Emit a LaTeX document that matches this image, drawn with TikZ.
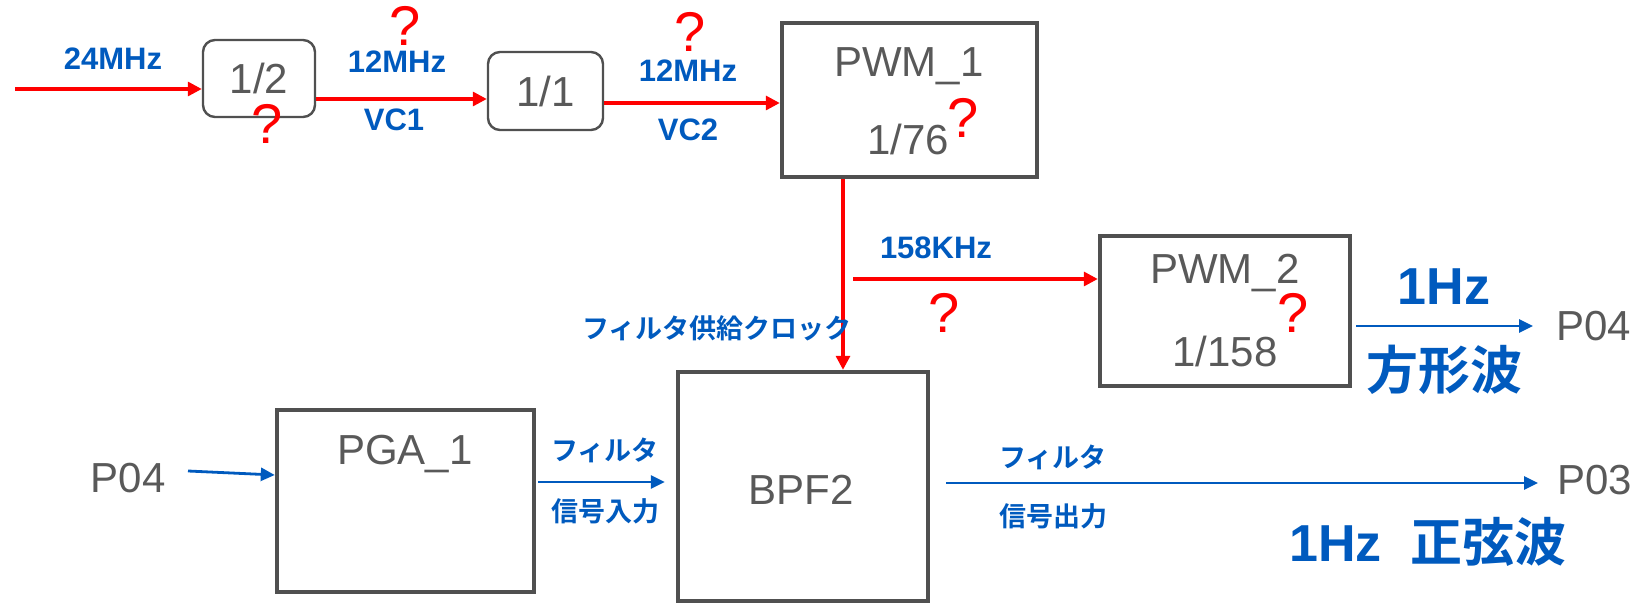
\documentclass[tikz,border=0pt]{standalone}
\usepackage{fontspec}
\setmainfont{Liberation Sans}
\newfontfamily\jp{Noto Sans CJK JP}[BoldFont={Noto Sans CJK JP Bold}]
\usetikzlibrary{arrows.meta}
\definecolor{cblue}{RGB}{0,90,190}
\definecolor{cred}{RGB}{255,0,0}
\definecolor{ctext}{RGB}{89,89,89}
\definecolor{cbox}{RGB}{80,80,80}
\begin{document}
\begin{tikzpicture}[x=0.5pt,y=-0.5pt,
  bigbox/.style={draw=cbox, line width=2.2pt, inner sep=0pt},
  rbox/.style={draw=cbox, line width=1.2pt, rounded corners=6pt, inner sep=0pt,
    text=ctext, font=\fontsize{21}{25}\selectfont},
  rarr/.style={draw=cred, line width=1.6pt, -{Triangle[length=7pt,width=7pt]}},
  barr/.style={draw=cblue, line width=1.4pt, -{Triangle[length=7pt,width=6.5pt]}},
  btext/.style={text=ctext, font=\fontsize{21}{25}\selectfont, inner sep=0pt},
  lbl/.style={text=cblue, font=\bfseries\fontsize{15.5}{18}\selectfont, inner sep=0pt},
  jlbl/.style={text=cblue, font=\jp\bfseries\fontsize{13.5}{16}\selectfont, inner sep=0pt},
  biglbl/.style={text=cblue, font=\bfseries\fontsize{26}{30}\selectfont, inner sep=0pt},
  q/.style={text=cred, font=\fontsize{28}{31}\selectfont, inner sep=0pt}]
\useasboundingbox (0,0) rectangle (1635,604);
\clip (0,0) rectangle (1635,604);

% boxes
\node[rbox, minimum width=56pt, minimum height=38.5pt] (b12) at (259,78.5) {1/2};
\node[rbox, minimum width=57.5pt, minimum height=39pt] (b11) at (545.5,91) {1/1};
\node[bigbox, minimum width=127.5pt, minimum height=77pt] (pwm1) at (909.5,100) {};
\node[bigbox, minimum width=125pt, minimum height=75pt] (pwm2) at (1225,311) {};
\node[bigbox, minimum width=128.5pt, minimum height=91pt] (pga) at (405.5,501) {};
\node[bigbox, minimum width=125pt, minimum height=114.5pt] (bpf) at (803,486.5) {};

% box texts
\node[btext] (t1) at (909,66) {PWM\_1};
\node[btext] (t2) at (908,139) {1/76};
\node[btext] (t3) at (1225,273) {PWM\_2};
\node[btext] (t4) at (1225,351) {1/158};
\node[btext] (t5) at (405,454) {PGA\_1};
\node[btext] (t6) at (801,490) {BPF2};
\node[btext, anchor=west] (p04r) at (1556,326) {P04};
\node[btext, anchor=west] (p03) at (1557,480) {P03};
\node[btext] (p04l) at (128,478) {P04};

% coordinates
\coordinate (in) at (15,89);
\coordinate (y1) at (0,99);
\coordinate (y2) at (0,103);
\coordinate (vx) at (843,0);
\coordinate (br) at (853,279);
\coordinate (o2) at (1356,326);
\coordinate (s1) at (188,471);
\coordinate (e1) at (0,475);
\coordinate (y3) at (0,482);
\coordinate (o3) at (946,483);

% red connectors
\draw[rarr] (in) -- (in -| b12.west);
\draw[rarr] (y1 -| b12.east) -- (y1 -| b11.west);
\draw[rarr] (y2 -| b11.east) -- (y2 -| pwm1.west);
\draw[rarr] (vx |- pwm1.south) -- (vx |- bpf.north);
\draw[rarr] (br) -- (br -| pwm2.west);

% blue connectors
\draw[barr] (o2) -- ([xshift=-11.5pt]o2 -| p04r.west);
\draw[barr] (s1) -- (e1 -| pga.west);
\draw[barr] ([xshift=1pt]y3 -| pga.east) -- ([xshift=-5.5pt]y3 -| bpf.west);
\draw[barr] (o3) -- ([xshift=-9.5pt]o3 -| p03.west);

% labels
\node[lbl] (l1) at (113,59) {24MHz};
\node[lbl] (l2) at (397,62) {12MHz};
\node[lbl] (l3) at (394,120) {VC1};
\node[lbl] (l4) at (688,71) {12MHz};
\node[lbl] (l5) at (688,130) {VC2};
\node[lbl] (l6) at (936,248) {158KHz};
\node[jlbl] (l7) at (717,328) {フィルタ供給クロック};
\node[jlbl] (l8) at (605,450) {フィルタ};
\node[jlbl] (l9) at (605,511) {信号入力};
\node[jlbl] (l10) at (1053,457) {フィルタ};
\node[jlbl] (l11) at (1053,516) {信号出力};
\node[biglbl] (l12) at (1444,287) {1Hz};
\node[biglbl] (l13) at (1444,370) {\jp 方形波};
\node[biglbl] (l14) at (1428,542) {1Hz\hspace{0.55em}{\jp 正弦波}};

% question marks
\node[q] (q1) at (267,124) {?};
\node[q] (q2) at (405,26) {?};
\node[q] (q3) at (690,32) {?};
\node[q] (q4) at (963,118) {?};
\node[q] (q5) at (944,313) {?};
\node[q] (q6) at (1293,313) {?};
\end{tikzpicture}
\end{document}
